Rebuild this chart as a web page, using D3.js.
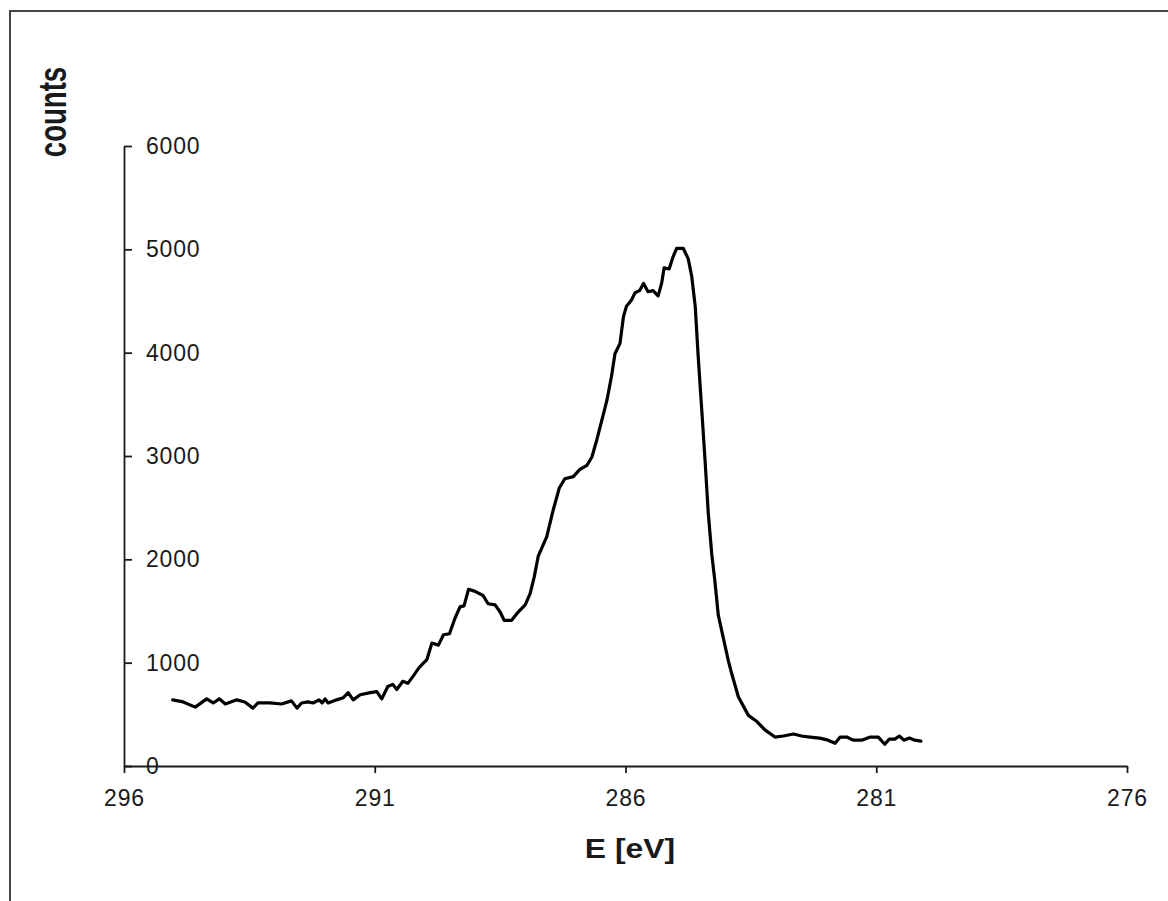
<!DOCTYPE html>
<html>
<head>
<meta charset="utf-8">
<script src="https://cdn.jsdelivr.net/npm/d3@7.9.0/dist/d3.min.js"></script>
<style>
  html, body { margin: 0; padding: 0; background: #fff; }
  svg { display: block; }
  text { font-family: "Liberation Sans", Arial, sans-serif; fill: #1a1a1a; }
</style>
</head>
<body>
<svg id="chart" width="1168" height="901"></svg>
<script>
// spectrum: binding energy (eV) and counts
const energy = [
  295.03, 294.82, 294.58, 294.35, 294.22, 294.10, 293.98, 293.75, 293.59, 293.43,
  293.33, 293.09, 292.86, 292.66, 292.55, 292.46, 292.33, 292.23, 292.11, 292.05,
  291.99, 291.93, 291.76, 291.63, 291.53, 291.43, 291.29, 291.09, 290.96, 290.86,
  290.74, 290.64, 290.56, 290.44, 290.34, 290.22, 290.12, 290.04, 289.96, 289.86,
  289.73, 289.63, 289.51, 289.40, 289.30, 289.22, 289.13, 289.00, 288.84, 288.74,
  288.60, 288.50, 288.42, 288.27, 288.14, 288.00, 287.90, 287.82, 287.74, 287.57,
  287.44, 287.32, 287.21, 287.04, 286.91, 286.77, 286.67, 286.57, 286.47, 286.37,
  286.28, 286.21, 286.11, 286.04, 285.98, 285.88, 285.81, 285.72, 285.64, 285.55,
  285.45, 285.35, 285.28, 285.23, 285.13, 285.05, 284.98, 284.85, 284.75, 284.68,
  284.61, 284.55, 284.48, 284.41, 284.35, 284.28, 284.22, 284.15, 284.05, 283.95,
  283.88, 283.75, 283.55, 283.38, 283.22, 283.02, 282.85, 282.65, 282.49, 282.32,
  282.13, 281.96, 281.82, 281.72, 281.59, 281.46, 281.29, 281.12, 280.96, 280.83,
  280.74, 280.63, 280.54, 280.45, 280.34, 280.23, 280.11
];
const counts = [
  640, 620, 570, 650, 610, 650, 600, 640, 620, 560,
  610, 610, 600, 630, 560, 610, 620, 610, 640, 610,
  650, 610, 640, 660, 710, 640, 690, 710, 720, 650,
  770, 790, 740, 820, 800, 880, 950, 990, 1030, 1190,
  1170, 1270, 1280, 1430, 1540, 1550, 1710, 1690, 1650, 1570,
  1560, 1490, 1410, 1410, 1490, 1560, 1670, 1830, 2030, 2220,
  2480, 2690, 2780, 2800, 2870, 2910, 2990, 3160, 3350, 3540,
  3770, 3990, 4090, 4350, 4450, 4510, 4580, 4600, 4670, 4590,
  4600, 4550, 4670, 4820, 4810, 4930, 5010, 5010, 4910, 4740,
  4450, 3960, 3450, 2930, 2450, 2050, 1800, 1460, 1240, 1020,
  890, 670, 490, 430, 350, 280, 290, 310, 290, 280,
  270, 250, 220, 280, 280, 250, 250, 280, 280, 210,
  260, 260, 290, 250, 270, 250, 240
];
const xTicks = [296, 291, 286, 281, 276];
const yTicks = [0, 1000, 2000, 3000, 4000, 5000, 6000];

const svg = d3.select('#chart');

// frame around the chart area (right and bottom run off the picture)
svg.append('rect')
  .attr('x', 10).attr('y', 11)
  .attr('width', 1170).attr('height', 900)
  .attr('fill', 'none')
  .attr('stroke', '#444')
  .attr('stroke-width', 2);

const x = d3.scaleLinear().domain([296, 276]).range([124, 1127]);
const y = d3.scaleLinear().domain([0, 6000]).range([766, 146]);

// x axis
const xAxis = svg.append('g')
  .attr('transform', `translate(0,${y(0)})`)
  .call(d3.axisBottom(x).tickValues(xTicks).tickFormat(d3.format('d'))
    .tickSize(7).tickSizeOuter(0).tickPadding(17));

// y axis, labels sit inside the plot
const yAxis = svg.append('g')
  .attr('transform', `translate(${x(296)},0)`)
  .call(d3.axisRight(y).tickValues(yTicks).tickFormat(d3.format('d'))
    .tickSize(8).tickSizeOuter(0).tickPadding(14));

[xAxis, yAxis].forEach((g) => {
  g.select('.domain').attr('stroke', '#1a1a1a').attr('stroke-width', 1.8);
  g.selectAll('.tick line').attr('stroke', '#1a1a1a').attr('stroke-width', 1.8);
  g.selectAll('.tick text')
    .attr('fill', '#222')
    .style('font-size', '23px')
    .style('letter-spacing', '0.8px')
    .style('font-family', '"Liberation Sans", Arial, sans-serif');
});

// the spectrum
const line = d3.line()
  .x((d, i) => x(energy[i]))
  .y((d) => y(d));

svg.append('path')
  .datum(counts)
  .attr('d', line)
  .attr('fill', 'none')
  .attr('stroke', '#000')
  .attr('stroke-width', 3.2)
  .attr('stroke-linejoin', 'round')
  .attr('stroke-linecap', 'round');

// axis titles
svg.append('text')
  .attr('transform', 'translate(630,858) scale(1.18,1)')
  .attr('text-anchor', 'middle')
  .style('font-size', '27px')
  .style('font-weight', 'bold')
  .text('E [eV]');

svg.append('text')
  .attr('transform', 'translate(66,112) rotate(-90) scale(0.92,1.3)')
  .attr('text-anchor', 'middle')
  .style('font-size', '30px')
  .style('font-weight', 'bold')
  .text('counts');
</script>
</body>
</html>
